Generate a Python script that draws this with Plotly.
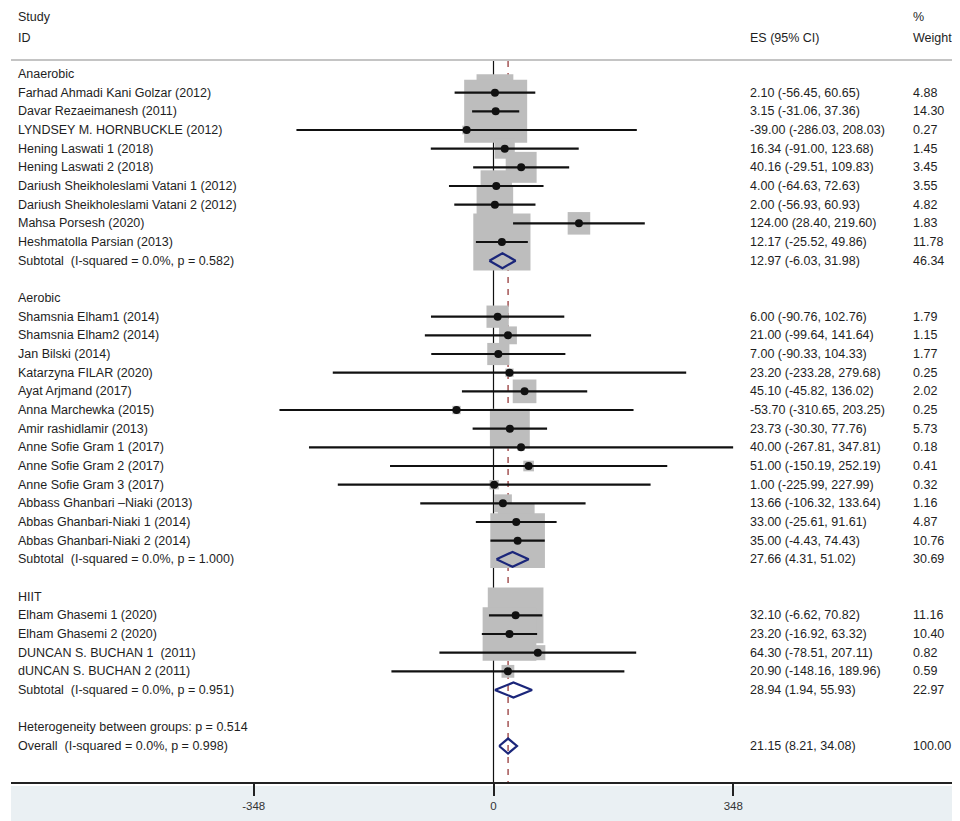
import math
import plotly.graph_objects as go

# ---------------- data ----------------
group_names = ["Anaerobic", "Aerobic", "HIIT"]

anaerobic_ids = [
    "Farhad Ahmadi Kani Golzar (2012)",
    "Davar Rezaeimanesh (2011)",
    "LYNDSEY M. HORNBUCKLE (2012)",
    "Hening Laswati 1 (2018)",
    "Hening Laswati 2 (2018)",
    "Dariush Sheikholeslami Vatani 1 (2012)",
    "Dariush Sheikholeslami Vatani 2 (2012)",
    "Mahsa Porsesh (2020)",
    "Heshmatolla Parsian (2013)",
]
anaerobic_es = [2.10, 3.15, -39.00, 16.34, 40.16, 4.00, 2.00, 124.00, 12.17]
anaerobic_lo = [-56.45, -31.06, -286.03, -91.00, -29.51, -64.63, -56.93, 28.40, -25.52]
anaerobic_hi = [60.65, 37.36, 208.03, 123.68, 109.83, 72.63, 60.93, 219.60, 49.86]
anaerobic_w = [4.88, 14.30, 0.27, 1.45, 3.45, 3.55, 4.82, 1.83, 11.78]

aerobic_ids = [
    "Shamsnia Elham1 (2014)",
    "Shamsnia Elham2 (2014)",
    "Jan Bilski (2014)",
    "Katarzyna FILAR (2020)",
    "Ayat Arjmand (2017)",
    "Anna Marchewka (2015)",
    "Amir rashidlamir (2013)",
    "Anne Sofie Gram 1 (2017)",
    "Anne Sofie Gram 2 (2017)",
    "Anne Sofie Gram 3 (2017)",
    "Abbass Ghanbari \u2013Niaki (2013)",
    "Abbas Ghanbari-Niaki 1 (2014)",
    "Abbas Ghanbari-Niaki 2 (2014)",
]
aerobic_es = [6.00, 21.00, 7.00, 23.20, 45.10, -53.70, 23.73, 40.00, 51.00, 1.00, 13.66, 33.00, 35.00]
aerobic_lo = [-90.76, -99.64, -90.33, -233.28, -45.82, -310.65, -30.30, -267.81, -150.19, -225.99, -106.32, -25.61, -4.43]
aerobic_hi = [102.76, 141.64, 104.33, 279.68, 136.02, 203.25, 77.76, 347.81, 252.19, 227.99, 133.64, 91.61, 74.43]
aerobic_w = [1.79, 1.15, 1.77, 0.25, 2.02, 0.25, 5.73, 0.18, 0.41, 0.32, 1.16, 4.87, 10.76]

hiit_ids = [
    "Elham Ghasemi 1 (2020)",
    "Elham Ghasemi 2 (2020)",
    "DUNCAN S. BUCHAN 1  (2011)",
    "dUNCAN S. BUCHAN 2 (2011)",
]
hiit_es = [32.10, 23.20, 64.30, 20.90]
hiit_lo = [-6.62, -16.92, -78.51, -148.16]
hiit_hi = [70.82, 63.32, 207.11, 189.96]
hiit_w = [11.16, 10.40, 0.82, 0.59]

subtotal_labels = [
    "Subtotal  (I-squared = 0.0%, p = 0.582)",
    "Subtotal  (I-squared = 0.0%, p = 1.000)",
    "Subtotal  (I-squared = 0.0%, p = 0.951)",
]
subtotal_es = [12.97, 27.66, 28.94]
subtotal_lo = [-6.03, 4.31, 1.94]
subtotal_hi = [31.98, 51.02, 55.93]
subtotal_w = [46.34, 30.69, 22.97]

heterogeneity_label = "Heterogeneity between groups: p = 0.514"
overall_label = "Overall  (I-squared = 0.0%, p = 0.998)"
overall_es = 21.15
overall_lo = 8.21
overall_hi = 34.08
overall_w = 100.00

tick_vals = [-348, 0, 348]
tick_text = ["-348", "0", "348"]

# ---------------- layout constants ----------------
OFF = 8                      # page body margin offset of the figure div
W = 960 - OFF                # figure width
H = 821 - OFF                # figure height
AXIS_PX = 783                # screen y of the x-axis line
PLOT_H = AXIS_PX - OFF       # figure px height of plotting area
BOTTOM = H - PLOT_H
ROW0_PX = 74.0               # screen y of first row
ROW_PX = 18.667
ZERO_PX = 493.5              # screen x of value 0
PX_PER_UNIT = 0.689


def row_of(px):
    """screen y -> row coordinate"""
    return (px - ROW0_PX) / ROW_PX


def xp(px):
    """screen x -> paper x"""
    return (px - OFF) / W


FONT = "Liberation Sans, Arial, sans-serif"
TXT = "#1e1e1e"
FS = 12.5
X_ID = xp(16)
X_ES = xp(748)
X_WT = xp(910.5)

groups = [
    (anaerobic_ids, anaerobic_es, anaerobic_lo, anaerobic_hi, anaerobic_w),
    (aerobic_ids, aerobic_es, aerobic_lo, aerobic_hi, aerobic_w),
    (hiit_ids, hiit_es, hiit_lo, hiit_hi, hiit_w),
]

annotations = []


def add_text(x, y, text):
    annotations.append(dict(
        x=x, y=y, xref="paper", yref="y", text=text.replace("  ", "\u00a0\u00a0"),
        showarrow=False, xanchor="left", yanchor="middle",
        font=dict(family=FONT, size=FS, color=TXT),
    ))


def fmt_ci(es, lo, hi):
    return f"{es:.2f} ({lo:.2f}, {hi:.2f})"


study_rows, study_es, study_lo, study_hi, study_w = [], [], [], [], []
diamonds = []  # (row, es, lo, hi)

r = 0
for gi, (ids, es, lo, hi, w) in enumerate(groups):
    add_text(X_ID, r, group_names[gi])
    r += 1
    for k in range(len(ids)):
        add_text(X_ID, r, ids[k])
        add_text(X_ES, r, fmt_ci(es[k], lo[k], hi[k]))
        add_text(X_WT, r, f"{w[k]:.2f}")
        study_rows.append(r)
        study_es.append(es[k])
        study_lo.append(lo[k])
        study_hi.append(hi[k])
        study_w.append(w[k])
        r += 1
    add_text(X_ID, r, subtotal_labels[gi])
    add_text(X_ES, r, fmt_ci(subtotal_es[gi], subtotal_lo[gi], subtotal_hi[gi]))
    add_text(X_WT, r, f"{subtotal_w[gi]:.2f}")
    diamonds.append((r, subtotal_es[gi], subtotal_lo[gi], subtotal_hi[gi]))
    r += 2

add_text(X_ID, r, heterogeneity_label)
r += 1
add_text(X_ID, r, overall_label)
add_text(X_ES, r, fmt_ci(overall_es, overall_lo, overall_hi))
add_text(X_WT, r, f"{overall_w:.2f}")
diamonds.append((r, overall_es, overall_lo, overall_hi))

# headers
add_text(X_ID, row_of(17), "Study")
add_text(X_ID, row_of(38), "ID")
add_text(X_ES, row_of(38), "ES (95% CI)")
add_text(X_WT, row_of(17), "%")
add_text(X_WT, row_of(38), "Weight")

fig = go.Figure()

# weight boxes
BOX_K = 16.66
fig.add_trace(go.Scatter(
    x=study_es, y=study_rows, mode="markers",
    marker=dict(symbol="square", size=[BOX_K * math.sqrt(v) for v in study_w],
                color="#BDBDBD", opacity=1, line=dict(width=0)),
    hoverinfo="skip", showlegend=False,
))

# CI lines
cx, cy = [], []
for rr, lo, hi in zip(study_rows, study_lo, study_hi):
    cx += [lo, hi, None]
    cy += [rr, rr, None]
fig.add_trace(go.Scatter(x=cx, y=cy, mode="lines", line=dict(color="#111111", width=2.2),
                         hoverinfo="skip", showlegend=False))

# point estimates
fig.add_trace(go.Scatter(
    x=study_es, y=study_rows, mode="markers",
    marker=dict(symbol="circle", size=8, color="#111111", opacity=1),
    hoverinfo="skip", showlegend=False,
))

# diamonds
DH = 0.40
dx, dy = [], []
for rr, es, lo, hi in diamonds:
    dx += [lo, es, hi, es, lo, None]
    dy += [rr, rr - DH, rr, rr + DH, rr, None]
fig.add_trace(go.Scatter(x=dx, y=dy, mode="lines", line=dict(color="#1B267A", width=2.2),
                         hoverinfo="skip", showlegend=False))

y_top_plot = row_of(OFF)
y_top_line = row_of(61)
y_bottom = row_of(AXIS_PX)

shapes = [
    # separator under header
    dict(type="line", xref="paper", yref="y", x0=xp(11), x1=1, y0=row_of(60), y1=row_of(60),
         line=dict(color="#C4C4C4", width=2)),
    # null line
    dict(type="line", xref="x", yref="y", x0=0, x1=0, y0=y_top_line, y1=y_bottom,
         line=dict(color="#111111", width=1.2), layer="below"),
    # overall effect dashed line
    dict(type="line", xref="x", yref="y", x0=overall_es, x1=overall_es, y0=y_top_line, y1=y_bottom,
         line=dict(color="#8E2A2A", width=1.2, dash="6px,6px"), layer="below"),
    # bottom band
    dict(type="rect", xref="paper", yref="paper", x0=xp(11), x1=1, y0=-BOTTOM / PLOT_H, y1=-3 / PLOT_H,
         fillcolor="#EAF0F3", line=dict(width=0), layer="below"),
    # axis line
    dict(type="line", xref="paper", yref="paper", x0=xp(11), x1=1, y0=0, y1=0,
         line=dict(color="#222222", width=2)),
]

x_min = (OFF - ZERO_PX) / PX_PER_UNIT
x_max = (OFF + W - ZERO_PX) / PX_PER_UNIT

fig.update_layout(
    width=W, height=H,
    margin=dict(l=0, r=0, t=0, b=BOTTOM, pad=0),
    paper_bgcolor="white", plot_bgcolor="white",
    showlegend=False,
    xaxis=dict(range=[x_min, x_max], showgrid=False, zeroline=False, showline=False,
               tickmode="array", tickvals=tick_vals, ticktext=tick_text,
               ticks="outside", ticklen=12, tickwidth=1.5, tickcolor="#222222",
               tickfont=dict(family=FONT, size=11.5, color="#333333"), fixedrange=True,
               automargin=False),
    yaxis=dict(range=[y_bottom, y_top_plot], visible=False, showgrid=False, zeroline=False,
               fixedrange=True, automargin=False),
    annotations=annotations,
    shapes=shapes,
)

fig.write_html("out.html")
